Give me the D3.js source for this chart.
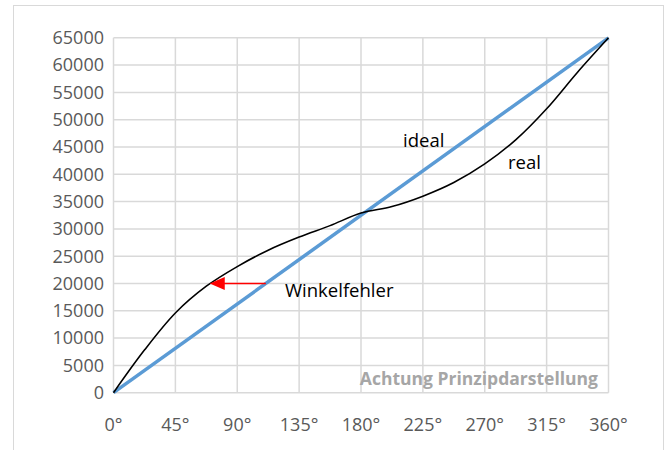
<!DOCTYPE html>
<html>
<head>
<meta charset="utf-8">
<script src="https://cdn.jsdelivr.net/npm/d3@7"></script>
<style>
  body { margin: 0; background: #fff; }
  text { font-family: "Open Sans", "Noto Sans", sans-serif; }
</style>
</head>
<body>
<svg width="668" height="450"></svg>
<script>
// angle ticks and value ticks
let angleTicks = [0, 45, 90, 135, 180, 225, 270, 315, 360];
let valueTicks = d3.range(0, 65001, 5000);

// ideal characteristic (straight line)
let idealAngle = [0, 360];
let idealValue = [0, 65000];

// real characteristic
let realAngle = [0, 22.5, 45, 67.5, 90, 112.5, 135, 157.5, 180, 202.5, 225, 247.5, 270, 292.5, 315, 337.5, 360];
let realValue = [0, 7800, 14600, 19500, 23100, 26100, 28500, 30600, 32900, 34100, 36000, 38500, 41900, 46300, 52000, 58700, 65000];

// angle error arrow at this value
let errorValue = 20000;
let errorRealAngle = 70;

let svg = d3.select("svg");

// outer frame
svg.append("rect")
  .attr("x", 13.5).attr("y", 5.5)
  .attr("width", 650).attr("height", 460)
  .style("fill", "none")
  .style("stroke", "#d9d9d9");

let x = d3.scaleLinear().domain([0, 360]).range([113.5, 608.5]);
let y = d3.scaleLinear().domain([0, 65000]).range([392.7, 37.8]);

// grid
let grid = svg.append("g").style("stroke", "#d9d9d9").style("stroke-width", 1.5);
grid.selectAll(".hl")
  .data(valueTicks)
  .join("line")
  .attr("x1", x(0)).attr("x2", x(360))
  .attr("y1", (d) => y(d)).attr("y2", (d) => y(d));
grid.selectAll(".vl")
  .data(angleTicks)
  .join("line")
  .attr("x1", (d) => x(d)).attr("x2", (d) => x(d))
  .attr("y1", y(0)).attr("y2", y(65000));

// axis labels
svg.append("g")
  .selectAll("text")
  .data(valueTicks)
  .join("text")
  .attr("x", 104)
  .attr("y", (d) => y(d))
  .attr("dy", "0.35em")
  .attr("text-anchor", "end")
  .style("font-size", "18px")
  .style("fill", "#595959")
  .text((d) => d);

svg.append("g")
  .selectAll("text")
  .data(angleTicks)
  .join("text")
  .attr("x", (d) => x(d))
  .attr("y", 431)
  .attr("text-anchor", "middle")
  .style("font-size", "18px")
  .style("fill", "#595959")
  .text((d) => d + "°");

// watermark
svg.append("text")
  .attr("x", 598).attr("y", 385)
  .attr("text-anchor", "end")
  .style("font-size", "17.5px")
  .style("font-weight", "bold")
  .style("fill", "#a6a6a6")
  .text("Achtung Prinzipdarstellung");

let line = d3.line()
  .x((d) => x(d[0]))
  .y((d) => y(d[1]));

svg.append("path")
  .datum(d3.zip(idealAngle, idealValue))
  .attr("d", line)
  .style("fill", "none")
  .style("stroke", "#5b9bd5")
  .style("stroke-width", 3.5);

svg.append("path")
  .datum(d3.zip(realAngle, realValue))
  .attr("d", line.curve(d3.curveCatmullRom.alpha(0.5)))
  .style("fill", "none")
  .style("stroke", "#000")
  .style("stroke-width", 1.6);

// Winkelfehler arrow
let idealAt = (errorValue / 65000) * 360;
let tipX = x(errorRealAngle);
let ay = y(errorValue);
svg.append("line")
  .attr("x1", x(idealAt)).attr("x2", tipX + 12)
  .attr("y1", ay).attr("y2", ay)
  .style("stroke", "#ff0000")
  .style("stroke-width", 1.5);
svg.append("path")
  .attr("d", `M${tipX},${ay}L${tipX + 15},${ay - 6.5}L${tipX + 15},${ay + 6.5}Z`)
  .style("fill", "#ff0000");

let labels = svg.append("g").style("font-size", "18.5px").style("fill", "#000");
labels.append("text").attr("x", 403).attr("y", 147).text("ideal");
labels.append("text").attr("x", 508).attr("y", 169).text("real");
labels.append("text").attr("x", 285).attr("y", 297).text("Winkelfehler");
</script>
</body>
</html>
